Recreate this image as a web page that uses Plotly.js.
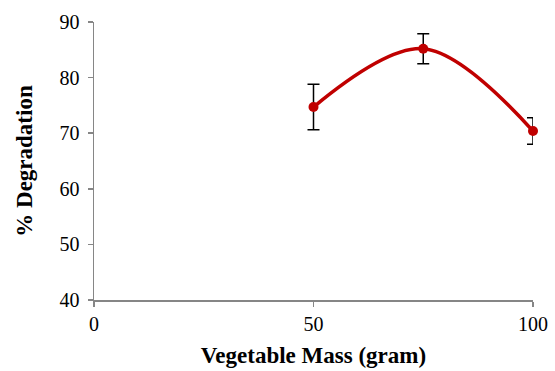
<!DOCTYPE html>
<html>
<head>
<meta charset="utf-8">
<script src="https://cdn.plot.ly/plotly-3.0.1.min.js"></script>
<style>html,body{margin:0;padding:0;background:#fff;}#chart{width:555px;height:371px;}</style>
</head>
<body>
<div id="chart"></div>
<script>
const mass = [50, 75, 100];
const degradation = [74.7, 85.2, 70.4];
const errors = [4.1, 2.7, 2.4];
const xTicks = [0, 50, 100];
const yTicks = [40, 50, 60, 70, 80, 90];

const trace = {
  x: mass, y: degradation, type: 'scatter', mode: 'lines+markers',
  line: {shape: 'spline', color: '#c00000', width: 3.5},
  marker: {color: '#c00000', size: 10},
  error_y: {type: 'data', array: errors, visible: true, color: '#000', thickness: 1.5, width: 6},
  cliponaxis: false
};
const font = {family: '"Liberation Serif", "Times New Roman", serif', color: '#000'};
const layout = {
  width: 555, height: 371,
  margin: {l: 94, r: 22, t: 22, b: 71},
  paper_bgcolor: '#fff', plot_bgcolor: '#fff',
  showlegend: false,
  font: font,
  xaxis: {
    range: [0, 100], tickvals: xTicks, ticks: 'outside', ticklen: 5, tickcolor: '#868686', tickwidth: 1.5,
    showline: true, linecolor: '#868686', linewidth: 1.5, showgrid: false, zeroline: false,
    tickfont: {size: 20, family: font.family, color: '#000'},
    title: {text: '<b>Vegetable Mass (gram)</b>', font: {size: 23, family: font.family, color: '#000'}, standoff: 13}
  },
  yaxis: {
    range: [40, 90], tickvals: yTicks, ticks: 'outside', ticklen: 5, tickcolor: '#868686', tickwidth: 1.5,
    showline: true, linecolor: '#868686', linewidth: 1.5, showgrid: false, zeroline: false,
    ticklabelstandoff: 4,
    tickfont: {size: 20, family: font.family, color: '#000'},
    title: {text: '<b>% Degradation</b>', font: {size: 23, family: font.family, color: '#000'}, standoff: 20}
  }
};
Plotly.newPlot('chart', [trace], layout, {displayModeBar: false, staticPlot: true});
</script>
</body>
</html>
